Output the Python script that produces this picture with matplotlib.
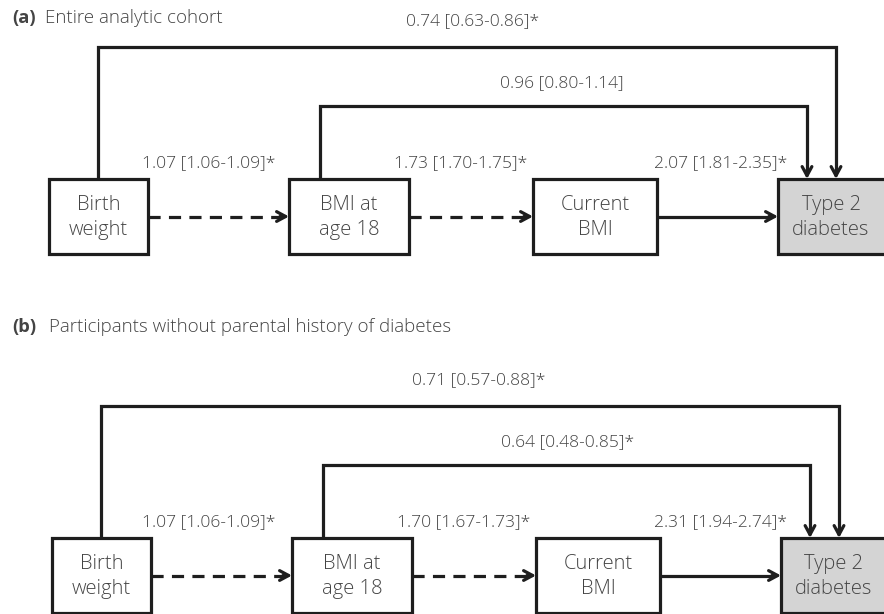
import matplotlib
matplotlib.use("Agg")
import matplotlib.pyplot as plt
from matplotlib.patches import Rectangle

plt.rcParams['font.family'] = ['Open Sans', 'DejaVu Sans']

# nodes of the path diagram
nodes = ["Birth\nweight", "BMI at\nage 18", "Current\nBMI", "Type 2\ndiabetes"]

# panels
panel_tags = ["(a)", "(b)"]
panel_titles = ["Entire analytic cohort",
                "Participants without parental history of diabetes"]

# odds ratios [95% CI] per path:
# BW->BMI18, BMI18->BMI, BMI->T2D, BMI18->T2D, BW->T2D
or_est = [[1.07, 1.73, 2.07, 0.96, 0.74],
          [1.07, 1.70, 2.31, 0.64, 0.71]]
or_lo = [[1.06, 1.70, 1.81, 0.80, 0.63],
         [1.06, 1.67, 1.94, 0.48, 0.57]]
or_hi = [[1.09, 1.75, 2.35, 1.14, 0.86],
         [1.09, 1.73, 2.74, 0.85, 0.88]]
signif = [[True, True, True, False, True],
          [True, True, True, True, True]]


def fmt(e, l, h, s):
    return f"{e:.2f} [{l:.2f}-{h:.2f}]" + ("*" if s else "")


# layout (pixels)
box_x = [(49, 148), (289, 409), (533, 657), (778, 900)]
box_top = [179, 538]
box_h = 75
title_y = [18, 327]
dx_panel = [0, 3]
lab_x = [209, 461, 721, 562, 473]

LC = "#1e1e1e"
TC = "#444444"
LW = 2.3
FS_LAB = 12.6
FS_NODE = 14.5
FS_TITLE = 13.5

fig = plt.figure(figsize=(8.84, 6.14), dpi=100)
ax = fig.add_axes([0, 0, 1, 1])
ax.set_xlim(0, 884)
ax.set_ylim(614, 0)
ax.axis("off")


def head(x0, y0, x1, y1):
    ax.annotate("", xy=(x1, y1), xytext=(x0, y0),
                arrowprops=dict(arrowstyle="->,head_length=0.65,head_width=0.35",
                                lw=LW, color=LC, shrinkA=0, shrinkB=0))


for p in range(2):
    dx = dx_panel[p]
    top = box_top[p]
    mid = top + box_h / 2
    bx = [(a + dx, b + dx) for a, b in box_x]

    ax.text(12, title_y[p], panel_tags[p], fontsize=FS_TITLE - 0.3,
            fontweight="bold", color=TC, va="center")
    ax.text(45 + 4 * p, title_y[p], panel_titles[p], fontsize=FS_TITLE,
            fontweight="light", color=TC, va="center")

    # boxes
    for i, (x0, x1) in enumerate(bx):
        fc = "#d4d4d4" if i == 3 else "white"
        ax.add_patch(Rectangle((x0, top), x1 - x0, box_h, fc=fc, ec=LC,
                               lw=LW, zorder=3))
        ax.text((x0 + x1) / 2 if i < 3 else x0 + 53, mid + 1,
                nodes[i], fontsize=FS_NODE, fontweight="light", color=TC,
                ha="center", va="center", linespacing=1.35, zorder=4)

    # horizontal chain
    for i in range(3):
        xs, xe = bx[i][1], bx[i + 1][0]
        ls = (0, (3.8, 2.6)) if i < 2 else "-"
        ax.plot([xs, xe - 8], [mid, mid], color=LC, lw=LW, ls=ls,
                solid_capstyle="butt")
        head(xe - 9, mid, xe, mid)
        lab = fmt(or_est[p][i], or_lo[p][i], or_hi[p][i], signif[p][i])
        ax.text(lab_x[i] + (dx if i == 1 else 0), top - 16, lab,
                fontsize=FS_LAB, fontweight="light", color=TC,
                ha="center", va="center")

    # elbow paths to type 2 diabetes
    for k, (xr, xd, lvl, ly) in enumerate([(320, 807, 73, 96),
                                           (98, 836, 132, 158)]):
        xr += dx
        xd += dx
        yl = top - lvl
        ax.plot([xr, xr, xd, xd], [top, yl, yl, top - 8], color=LC, lw=LW,
                solid_joinstyle="miter")
        head(xd, top - 9, xd, top)
        j = 3 + k
        lab = fmt(or_est[p][j], or_lo[p][j], or_hi[p][j], signif[p][j])
        ax.text(lab_x[j] + 2 * dx, top - ly, lab, fontsize=FS_LAB,
                fontweight="light", color=TC, ha="center", va="center")

fig.savefig("out.png", dpi=100)
